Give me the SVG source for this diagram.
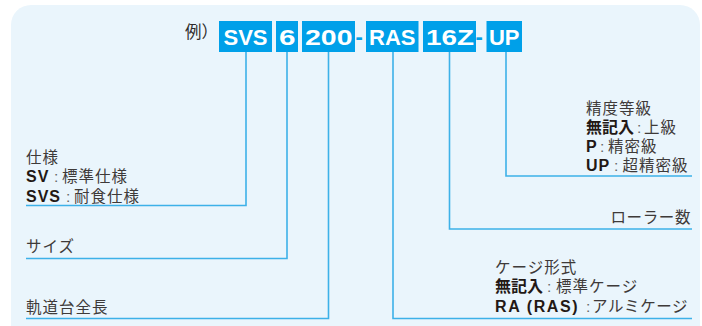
<svg xmlns="http://www.w3.org/2000/svg" width="702" height="326" viewBox="0 0 702 326">
<style>
.bg{fill:#eaf5fc}
.box{fill:#00a0e9}
.bt{font-family:"Liberation Sans",Arial,sans-serif;font-weight:bold;font-size:22px;fill:#fff}
.dash{font-family:"Liberation Sans",Arial,sans-serif;font-weight:bold;font-size:22px;fill:#00a0e9}
.ln{fill:none;stroke:#3db1e8;stroke-width:1.6}
.t{font-family:"Liberation Sans","Noto Sans CJK JP",sans-serif;font-size:15.5px;fill:#3e3a39;letter-spacing:1px}
.b{font-family:"Liberation Sans","Noto Sans CJK JP",sans-serif;font-weight:bold;font-size:16px;fill:#231815;letter-spacing:1px}
.c{fill:#666}
</style>
<path class="bg" d="M11,326 V25 A20,20 0 0 1 31,5 H680 A20,20 0 0 1 700,25 V326 Z"/>
<g id="title">
<text x="185" y="37.5" class="t" style="font-size:16.5px;letter-spacing:0;fill:#2f2c2b">例）</text>
</g>
<g id="code">
<rect class="box" x="219" y="21" width="53" height="31"/>
<text class="bt" x="245.5" y="44.5" text-anchor="middle">SVS</text>
<rect class="box" x="276" y="21" width="22" height="31"/>
<text class="bt" x="279" y="44.5" textLength="16.5" lengthAdjust="spacingAndGlyphs">6</text>
<rect class="box" x="302" y="21" width="53" height="31"/>
<text class="bt" x="305" y="44.5" textLength="47.5" lengthAdjust="spacingAndGlyphs">200</text>
<text class="dash" x="355.5" y="43.5">-</text>
<rect class="box" x="366" y="21" width="52.5" height="31"/>
<text class="bt" x="392.3" y="44.5" text-anchor="middle">RAS</text>
<rect class="box" x="423" y="21" width="53" height="31"/>
<text class="bt" x="426" y="44.5" textLength="48" lengthAdjust="spacingAndGlyphs">16Z</text>
<text class="dash" x="475.5" y="43.5">-</text>
<rect class="box" x="486.5" y="21" width="35.5" height="31"/>
<text class="bt" x="504.2" y="44.5" text-anchor="middle">UP</text>
</g>
<g id="connectors">
<polyline class="ln" points="246,52 246,205.5 26,205.5"/>
<polyline class="ln" points="287,52 287,258.5 26,258.5"/>
<polyline class="ln" points="328.5,52 328.5,318.5 26,318.5"/>
<polyline class="ln" points="393,52 393,318.5 692,318.5"/>
<polyline class="ln" points="449.5,52 449.5,229 692,229"/>
<polyline class="ln" points="506,52 506,176 692,176"/>
</g>
<g id="spec">
<text class="t" x="26" y="162.5">仕様</text>
<text y="182"><tspan class="b" x="26">SV</tspan><tspan class="t c" x="54">:</tspan><tspan class="t" x="62">標準仕様</tspan></text>
<text y="201.5"><tspan class="b" x="26">SVS</tspan><tspan class="t c" x="66">:</tspan><tspan class="t" x="74">耐食仕様</tspan></text>
</g>
<g id="size">
<text class="t" x="26" y="251.5">サイズ</text>
</g>
<g id="length">
<text class="t" x="26" y="313">軌道台全長</text>
</g>
<g id="accuracy">
<text class="t" x="586" y="114">精度等級</text>
<text y="133"><tspan class="b" x="586" style="letter-spacing:0">無記入</tspan><tspan class="t c" x="637">:</tspan><tspan class="t" x="644">上級</tspan></text>
<text y="152"><tspan class="b" x="586">P</tspan><tspan class="t c" x="600">:</tspan><tspan class="t" x="608">精密級</tspan></text>
<text y="171"><tspan class="b" x="586">UP</tspan><tspan class="t c" x="614">:</tspan><tspan class="t" x="622.5">超精密級</tspan></text>
</g>
<g id="rollers">
<text class="t" x="691" y="222.5" text-anchor="end" style="letter-spacing:0.6px">ローラー数</text>
</g>
<g id="cage">
<text class="t" x="495" y="272.5">ケージ形式</text>
<text y="292"><tspan class="b" x="495" style="letter-spacing:0">無記入</tspan><tspan class="t c" x="547">:</tspan><tspan class="t" x="556">標準ケージ</tspan></text>
<text y="311.5"><tspan class="b" x="495" style="letter-spacing:1.6px">RA (RAS)</tspan><tspan class="t c" x="586">:</tspan><tspan class="t" x="592" style="letter-spacing:0.6px">アルミケージ</tspan></text>
</g>
</svg>
